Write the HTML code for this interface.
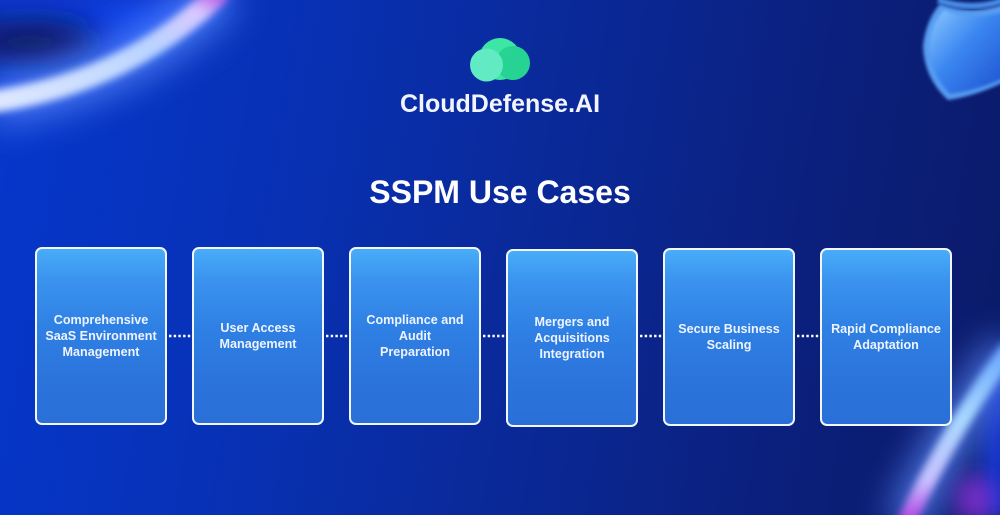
<!DOCTYPE html>
<html>
<head>
<meta charset="utf-8">
<style>
  html,body{margin:0;padding:0;}
  body{width:1000px;height:515px;overflow:hidden;position:relative;font-family:"Liberation Sans",sans-serif;
    background:linear-gradient(100deg,#0637cc 0%,#0732b8 25%,#0a2a9c 50%,#0b2180 75%,#0b1a68 100%);}
  .bg{position:absolute;left:0;top:0;}
  .logo{position:absolute;left:0;width:1000px;top:92px;text-align:center;color:#f2f5ff;font-weight:bold;font-size:25px;line-height:25px;letter-spacing:0px;}
  .title{position:absolute;left:0;width:1000px;top:176px;text-align:center;color:#ffffff;font-weight:bold;font-size:32px;line-height:32px;}
  .box{position:absolute;width:128px;height:174px;border:2.5px solid #f2f7ff;border-radius:7px;
    background:linear-gradient(180deg,#49acf9 0%,#3a93ee 18%,#2f80e4 45%,#2b74dc 75%,#2a6fd8 100%);
    display:flex;align-items:center;justify-content:center;text-align:center;color:#eef4ff;font-weight:bold;font-size:12.6px;line-height:16px;}
  .box span{display:block;padding:0 4px;}
</style>
</head>
<body>
<svg class="bg" width="1000" height="515" viewBox="0 0 1000 515">
  <defs>
    <filter id="b4" x="-50%" y="-50%" width="200%" height="200%"><feGaussianBlur stdDeviation="4"/></filter>
    <filter id="b10" x="-50%" y="-50%" width="200%" height="200%"><feGaussianBlur stdDeviation="10"/></filter>
    <filter id="b18" x="-50%" y="-50%" width="200%" height="200%"><feGaussianBlur stdDeviation="18"/></filter>
    <filter id="b2" x="-50%" y="-50%" width="200%" height="200%"><feGaussianBlur stdDeviation="1.5"/></filter>
    <linearGradient id="arc1" x1="0" y1="1" x2="1" y2="0">
      <stop offset="0" stop-color="#dfe8ff"/>
      <stop offset="0.6" stop-color="#b9d4ff"/>
      <stop offset="0.85" stop-color="#d8c8ff"/>
      <stop offset="1" stop-color="#b040e0"/>
    </linearGradient>
    <linearGradient id="arc2" x1="0" y1="1" x2="0" y2="0">
      <stop offset="0" stop-color="#b030e0"/>
      <stop offset="0.25" stop-color="#c8c0ff"/>
      <stop offset="0.6" stop-color="#a8d8ff"/>
      <stop offset="1" stop-color="#6aa8ff"/>
    </linearGradient>
    <linearGradient id="shield" x1="0" y1="0" x2="1" y2="1">
      <stop offset="0" stop-color="#8cc8ff"/>
      <stop offset="0.45" stop-color="#3a86f0"/>
      <stop offset="1" stop-color="#1d4fd0"/>
    </linearGradient>
  </defs>
  <!-- top-left glow region -->
  <path d="M0 0 L230 0 Q130 80 -10 100 Z" fill="#0c3fe6" filter="url(#b10)"/>
  <ellipse cx="30" cy="42" rx="70" ry="22" fill="#07124f" filter="url(#b18)"/>
  <path d="M-10 102 Q130 82 222 -10" stroke="#5d8cff" stroke-width="46" fill="none" filter="url(#b18)" opacity="0.8"/>
  <path d="M-10 102 Q130 82 222 -10" stroke="url(#arc1)" stroke-width="22" fill="none" filter="url(#b4)"/>
  <!-- bottom-right glow -->
  <path d="M1010 340 Q975 400 985 520 L1010 520 Z" fill="#1838d8" filter="url(#b10)"/>
  <path d="M905 525 Q950 430 1010 348" stroke="#5d8cff" stroke-width="40" fill="none" filter="url(#b18)" opacity="0.8"/>
  <path d="M905 525 Q950 430 1010 348" stroke="url(#arc2)" stroke-width="18" fill="none" filter="url(#b4)"/>
  <ellipse cx="975" cy="500" rx="20" ry="25" fill="#9a30e0" filter="url(#b10)" opacity="0.7"/>
  <!-- shield top-right -->
  <path d="M940 4 Q972 16 1004 4 L1004 82 Q975 96 948 100 Q924 78 923 46 Q926 20 940 4 Z" fill="#5eaaff" filter="url(#b2)" opacity="0.9"/>
  <path d="M944 10 Q972 22 1004 12 L1004 78 Q976 91 950 94 Q930 74 929 46 Q931 24 944 10 Z" fill="url(#shield)" filter="url(#b2)"/>
  <path d="M938 0 Q972 12 1004 0" stroke="#4a8fe8" stroke-width="6" fill="none" filter="url(#b2)"/>
  <!-- logo -->
  <circle cx="500" cy="59" r="21" fill="#3de6a4"/>
  <circle cx="513" cy="63" r="17" fill="#26d393"/>
  <circle cx="486.5" cy="65" r="16.5" fill="#62ebc3"/>
  <!-- dotted connectors -->
  <g stroke="#ffffff" stroke-width="2.4" stroke-dasharray="2.4 2.3" fill="none">
    <line x1="169" y1="336" x2="192" y2="336"/>
    <line x1="326" y1="336" x2="349" y2="336"/>
    <line x1="483" y1="336" x2="506" y2="336"/>
    <line x1="640" y1="336" x2="663" y2="336"/>
    <line x1="797" y1="336" x2="820" y2="336"/>
  </g>
</svg>

<div class="logo">CloudDefense.AI</div>
<div class="title">SSPM Use Cases</div>

<div class="box" style="left:35px;top:247px;"><span>Comprehensive<br>SaaS Environment<br>Management</span></div>
<div class="box" style="left:192px;top:247px;"><span>User Access<br>Management</span></div>
<div class="box" style="left:349px;top:247px;"><span>Compliance and<br>Audit<br>Preparation</span></div>
<div class="box" style="left:506px;top:249px;"><span>Mergers and<br>Acquisitions<br>Integration</span></div>
<div class="box" style="left:663px;top:248px;"><span>Secure Business<br>Scaling</span></div>
<div class="box" style="left:820px;top:248px;"><span>Rapid Compliance<br>Adaptation</span></div>
</body>
</html>
